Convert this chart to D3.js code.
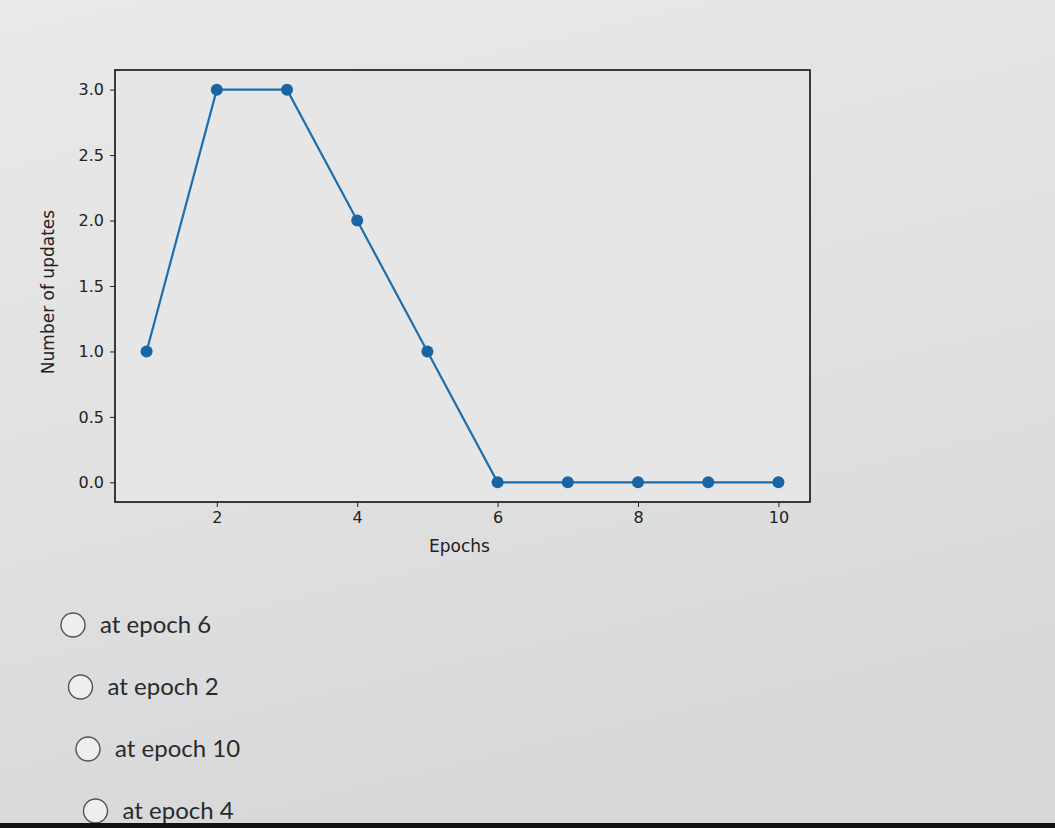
<!DOCTYPE html>
<html>
<head>
<meta charset="utf-8">
<script src="https://cdn.jsdelivr.net/npm/d3@7"></script>
<style>
  body { margin: 0; background: #e3e3e3; overflow: hidden; }
  svg { display: block; }
</style>
</head>
<body>
<svg></svg>
<script>
const epochs = [1, 2, 3, 4, 5, 6, 7, 8, 9, 10];
const updates = [1, 3, 3, 2, 1, 0, 0, 0, 0, 0];
const xTicks = [2, 4, 6, 8, 10];
const yTicks = [0.0, 0.5, 1.0, 1.5, 2.0, 2.5, 3.0];
const options = ['at epoch 6', 'at epoch 2', 'at epoch 10', 'at epoch 4'];

const width = 1055, height = 828;
const svg = d3.select('svg')
  .attr('width', width)
  .attr('height', height);

// photographed screen: soft light gradient
const defs = svg.append('defs');
const grad = defs.append('linearGradient')
  .attr('id', 'bg')
  .attr('x1', 0).attr('y1', 0).attr('x2', 0.3).attr('y2', 1);
grad.append('stop').attr('offset', '0%').attr('stop-color', '#e9e9e9');
grad.append('stop').attr('offset', '60%').attr('stop-color', '#e0e0e0');
grad.append('stop').attr('offset', '100%').attr('stop-color', '#d6d8da');
svg.append('rect')
  .attr('width', width).attr('height', height)
  .attr('fill', 'url(#bg)');

const margin = {top: 70, right: 245, bottom: 326, left: 115};
const innerWidth = width - margin.left - margin.right;
const innerHeight = height - margin.top - margin.bottom;

const xScale = d3.scaleLinear()
  .domain([0.55, 10.45])
  .range([0, innerWidth]);

const yScale = d3.scaleLinear()
  .domain([-0.15, 3.15])
  .range([innerHeight, 0]);

const g = svg.append('g')
  .attr('transform', `translate(${margin.left},${margin.top})`);

g.append('rect')
  .attr('width', innerWidth)
  .attr('height', innerHeight)
  .attr('fill', '#e6e6e6')
  .attr('stroke', '#111')
  .attr('stroke-width', 1.6);

const xAxis = d3.axisBottom(xScale)
  .tickValues(xTicks)
  .tickFormat(d3.format('d'))
  .tickSize(5)
  .tickPadding(5);

const yAxis = d3.axisLeft(yScale)
  .tickValues(yTicks)
  .tickFormat(d3.format('.1f'))
  .tickSize(5)
  .tickPadding(6);

const styleAxis = sel => {
  sel.attr('font-family', 'DejaVu Sans, sans-serif')
    .attr('font-size', 16);
  sel.select('.domain').remove();
  sel.selectAll('line').attr('stroke', '#222');
  sel.selectAll('.tick text').attr('fill', '#222');
};

const xAxisG = g.append('g')
  .attr('transform', `translate(0,${innerHeight})`)
  .call(xAxis)
  .call(styleAxis);

const yAxisG = g.append('g')
  .call(yAxis)
  .call(styleAxis);

g.append('text')
  .attr('font-family', 'DejaVu Sans, sans-serif')
  .attr('font-size', 17)
  .attr('fill', '#222')
  .attr('x', innerWidth / 2 - 3)
  .attr('y', innerHeight + 50)
  .attr('text-anchor', 'middle')
  .text('Epochs');

g.append('text')
  .attr('font-family', 'DejaVu Sans, sans-serif')
  .attr('font-size', 17)
  .attr('fill', '#222')
  .attr('transform', 'rotate(-90)')
  .attr('x', -innerHeight / 2 - 6)
  .attr('y', -61)
  .attr('text-anchor', 'middle')
  .text('Number of updates');

const data = epochs.map((e, i) => ({epoch: e, value: updates[i]}));

const line = d3.line()
  .x(d => xScale(d.epoch))
  .y(d => yScale(d.value));

g.append('path')
  .attr('d', line(data))
  .attr('fill', 'none')
  .attr('stroke', '#1c6eae')
  .attr('stroke-width', 2.2);

g.selectAll('circle.pt')
  .data(data)
  .enter().append('circle')
  .attr('class', 'pt')
  .attr('cx', d => xScale(d.epoch))
  .attr('cy', d => yScale(d.value))
  .attr('r', 6)
  .attr('fill', '#1964a4');

// answer options
const optItem = svg.append('g').selectAll('g')
  .data(options)
  .enter().append('g')
  .attr('transform', (d, i) => `translate(${73 + i * 7.5},${625 + i * 62})`);
optItem.append('circle')
  .attr('r', 12)
  .attr('fill', '#eeeeee')
  .attr('stroke', '#555')
  .attr('stroke-width', 1.4);
optItem.append('text')
  .attr('font-family', 'Lato, sans-serif')
  .attr('font-size', 24)
  .attr('fill', '#2a2a2a')
  .attr('x', 27)
  .attr('y', 8)
  .text(d => d);

// dark bezel at the bottom edge of the photo
svg.append('rect')
  .attr('x', 0).attr('y', 823)
  .attr('width', width).attr('height', 5)
  .attr('fill', '#111');
</script>
</body>
</html>
